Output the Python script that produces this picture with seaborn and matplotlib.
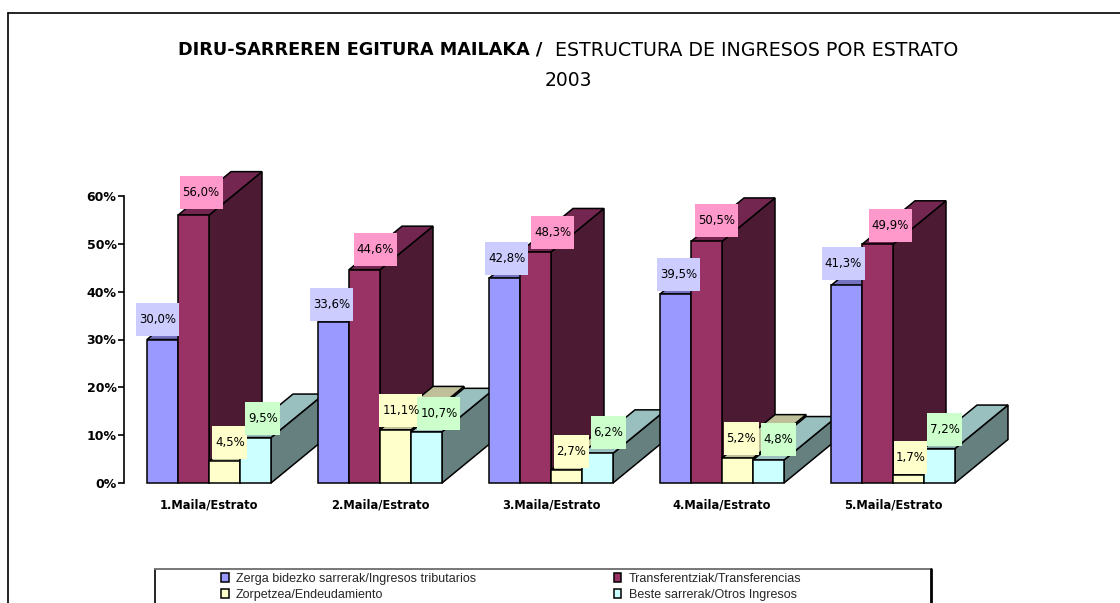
import matplotlib
matplotlib.use("Agg")
import matplotlib.pyplot as plt
from matplotlib.lines import Line2D
from matplotlib.patches import Polygon, Rectangle
from matplotlib.ticker import PercentFormatter
from matplotlib.transforms import IdentityTransform
import pandas as pd
import seaborn as sns

estratos = ["1.Maila/Estrato", "2.Maila/Estrato", "3.Maila/Estrato", "4.Maila/Estrato", "5.Maila/Estrato"]
series = ["Zerga bidezko sarrerak/Ingresos tributarios", "Transferentziak/Transferencias",
          "Zorpetzea/Endeudamiento", "Beste sarrerak/Otros Ingresos"]
tributarios = [30.0, 33.6, 42.8, 39.5, 41.3]
transferencias = [56.0, 44.6, 48.3, 50.5, 49.9]
endeudamiento = [4.5, 11.1, 2.7, 5.2, 1.7]
otros = [9.5, 10.7, 6.2, 4.8, 7.2]
all_values = [tributarios, transferencias, endeudamiento, otros]

# colours per series: front, top, side, label box
front_colors = ["#9999FF", "#993366", "#FFFFCC", "#CCFFFF"]
top_colors = ["#7373BF", "#732650", "#BFBF99", "#99BFBF"]
side_colors = ["#4D4D80", "#4D1A33", "#808066", "#668080"]
box_colors = ["#CCCCFF", "#FF99CC", "#FFFFCC", "#CCFFCC"]

# hand placed label boxes in the original: shift from bar centre / gap over bar top, px
label_dx = [[-5, 7.5, 5.5, 7.5], [-2, 11, 5.5, 12.5], [2, 17, 5, 11], [3, 10, 4, 10], [-3.5, 13, 2, 5]]
label_gap = [[4, 6, 2, 3], [1, 4, 3, 2], [3, 3, 2, 4], [3, 4, 3, 4], [5, 2, 1, 3]]
depth_x, depth_y = 53, 43.5
W, H = 1120, 603

sns.set_theme(style="white")
plt.rcParams["font.family"] = ["DejaVu Sans"]

rows = []
for s, vals in zip(series, all_values):
    for e, v in zip(estratos, vals):
        rows.append({"estrato": e, "serie": s, "pct": v})
df = pd.DataFrame(rows)

fig = plt.figure(figsize=(W / 100, H / 100), dpi=100)
ax = fig.add_axes([123.5 / W, (H - 483) / H, 855 / W, 287 / H])
ax.patch.set_alpha(0)

sns.barplot(data=df, x="estrato", y="pct", hue="serie", hue_order=series, palette=front_colors,
            width=0.725, gap=0, saturation=1, edgecolor="black", linewidth=1.1, ax=ax)
ax.set_xlim(-0.5, 4.5)
ax.set_ylim(0, 60)
ax.set_xlabel("")
ax.set_ylabel("")
ax.yaxis.set_major_formatter(PercentFormatter(100, decimals=0))
ax.set_yticks(range(0, 61, 10))
ax.tick_params(axis="y", length=4, width=1.2, color="black", pad=1, left=True)
ax.tick_params(axis="x", length=0, pad=11)
for t in ax.get_yticklabels():
    t.set_fontsize(9)
    t.set_fontweight("bold")
    t.set_color("black")
for t in ax.get_xticklabels():
    t.set_fontsize(8.3)
    t.set_fontweight("bold")
    t.set_color("black")
for side in ["top", "right", "bottom"]:
    ax.spines[side].set_visible(False)
ax.spines["left"].set_color("black")
ax.spines["left"].set_linewidth(1.2)

# fake 3D: each bar gets a top and a side face behind its front
px = IdentityTransform()
for k, container in enumerate(ax.containers):
    for g, bar in enumerate(container.patches):
        (x0, y0), (x1, y1) = ax.transData.transform([(bar.get_x(), 0), (bar.get_x() + bar.get_width(), bar.get_height())])
        z = 3 + g * 5 + k
        bar.set_zorder(z + 0.5)
        bar.set_clip_on(False)
        side_face = [(x1, y0), (x1 + depth_x, y0 + depth_y), (x1 + depth_x, y1 + depth_y), (x1, y1)]
        top_face = [(x0, y1), (x0 + depth_x, y1 + depth_y), (x1 + depth_x, y1 + depth_y), (x1, y1)]
        ax.add_patch(Polygon(side_face, closed=True, facecolor=side_colors[k], edgecolor="black", linewidth=1.1,
                             transform=px, clip_on=False, zorder=z))
        ax.add_patch(Polygon(top_face, closed=True, facecolor=top_colors[k], edgecolor="black", linewidth=1.1,
                             transform=px, clip_on=False, zorder=z))

        # value label on its coloured box
        txt = f"{all_values[k][g]:.1f}".replace(".", ",") + "%"
        bw = 43 if len(txt) > 4 else 35
        if txt == "1,7%":
            bw = 33
        cx = (x0 + x1) / 2 + label_dx[g][k]
        by = y1 + label_gap[g][k]
        ax.add_patch(Rectangle((cx - bw / 2, by), bw, 33, facecolor=box_colors[k], edgecolor="none",
                               transform=px, clip_on=False, zorder=100))
        ax.text(cx, by + 16.5, txt, transform=px, ha="center", va="center", fontsize=8.5, color="black",
                clip_on=False, zorder=101)

# legend, two rows; its box runs off the bottom of the picture
handles, labels = ax.get_legend_handles_labels()
order = [0, 2, 1, 3]
leg = fig.legend([handles[i] for i in order], [labels[i] for i in order], ncol=2, frameon=False,
                 loc="upper left", bbox_to_anchor=(221 / W, (H - 573) / H), borderaxespad=0, borderpad=0,
                 prop={"family": "Liberation Sans", "size": 9}, handlelength=0.6, handleheight=0.7,
                 handletextpad=0.6, columnspacing=11, labelspacing=0.3)
if ax.get_legend():
    ax.get_legend().remove()

for xs, ys, c, lw in [([7.5, 7.5], [0, H - 12.5], "black", 1.2),
                      ([7.5, W], [H - 12.5, H - 12.5], "black", 1.2),
                      ([154.5, 154.5], [0, H - 569], "black", 1.2),
                      ([154.5, 931], [H - 569, H - 569], "#777777", 1.4),
                      ([931, 931], [0, H - 569], "black", 2)]:
    fig.add_artist(Line2D(xs, ys, color=c, linewidth=lw, transform=px))

fig.text(178 / W, (H - 50) / H, "DIRU-SARREREN EGITURA MAILAKA /", fontsize=12.7, fontweight="bold",
         ha="left", va="center", color="black")
fig.text(958 / W, (H - 50) / H, "ESTRUCTURA DE INGRESOS POR ESTRATO", fontsize=13.7,
         ha="right", va="center", color="black")
fig.text(568.5 / W, (H - 81) / H, "2003", fontsize=13.5, ha="center", va="center", color="black")

fig.savefig("out.png", dpi=100)
